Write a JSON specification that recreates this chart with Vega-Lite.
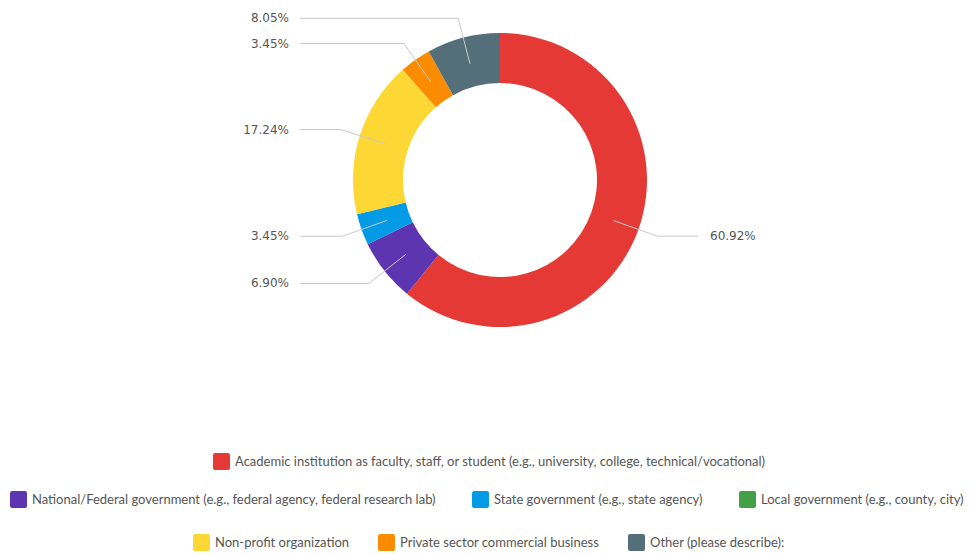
{
  "$schema": "https://vega.github.io/schema/vega-lite/v6.json",
  "width": 975,
  "height": 554,
  "autosize": {"type": "none"},
  "padding": 0,
  "background": "white",
  "config": {"view": {"stroke": null}},
  "data": {
    "values": [
      {"idx": 1, "category": "Academic institution as faculty, staff, or student (e.g., university, college, technical/vocational)", "pct": 60.92},
      {"idx": 2, "category": "National/Federal government (e.g., federal agency, federal research lab)", "pct": 6.90},
      {"idx": 3, "category": "State government (e.g., state agency)", "pct": 3.45},
      {"idx": 4, "category": "Local government (e.g., county, city)", "pct": 0},
      {"idx": 5, "category": "Non-profit organization", "pct": 17.24},
      {"idx": 6, "category": "Private sector commercial business", "pct": 3.45},
      {"idx": 7, "category": "Other (please describe):", "pct": 8.05}
    ]
  },
  "layer": [
    {
      "mark": {"type": "arc", "outerRadius": 147, "innerRadius": 97},
      "encoding": {
        "x": {"datum": 0, "type": "quantitative", "scale": {"domain": [-500, 475], "nice": false, "zero": false}, "axis": null},
        "y": {"datum": 0, "type": "quantitative", "scale": {"domain": [-374, 180], "nice": false, "zero": false}, "axis": null},
        "theta": {"field": "pct", "type": "quantitative", "stack": true},
        "order": {"field": "idx", "type": "quantitative"},
        "color": {
          "field": "category", "type": "nominal", "legend": null,
          "scale": {
            "domain": [
              "Academic institution as faculty, staff, or student (e.g., university, college, technical/vocational)",
              "National/Federal government (e.g., federal agency, federal research lab)",
              "State government (e.g., state agency)",
              "Local government (e.g., county, city)",
              "Non-profit organization",
              "Private sector commercial business",
              "Other (please describe):"
            ],
            "range": ["#E53935", "#5E35B1", "#039BE5", "#43A047", "#FDD835", "#FB8C00", "#546E7A"]
          }
        }
      }
    },
    {
      "transform": [
        {"joinaggregate": [{"op": "sum", "field": "pct", "as": "total"}]},
        {"window": [{"op": "sum", "field": "pct", "as": "cum"}], "sort": [{"field": "idx"}], "frame": [null, 0]},
        {"filter": "datum.pct > 0"},
        {"calculate": "(datum.cum - datum.pct / 2) / datum.total * 2 * PI", "as": "mid"},
        {"calculate": "120 * sin(datum.mid)", "as": "ix"},
        {"calculate": "120 * cos(datum.mid)", "as": "iy"},
        {"calculate": "167 * sin(datum.mid)", "as": "ex"},
        {"calculate": "167 * cos(datum.mid)", "as": "ey"},
        {"calculate": "datum.ex < 0 ? -200 : 198", "as": "lx"},
        {"calculate": "datum.ex < 0 ? -211 : 210", "as": "tx"},
        {"calculate": "format(datum.pct, '.2f') + '%'", "as": "label"}
      ],
      "layer": [
        {
          "mark": {"type": "rule", "color": "#c9c9c9", "strokeWidth": 1},
          "encoding": {
            "x": {"field": "ix", "type": "quantitative"},
            "y": {"field": "iy", "type": "quantitative"},
            "x2": {"field": "ex"},
            "y2": {"field": "ey"}
          }
        },
        {
          "mark": {"type": "rule", "color": "#c9c9c9", "strokeWidth": 1},
          "encoding": {
            "x": {"field": "ex", "type": "quantitative"},
            "y": {"field": "ey", "type": "quantitative"},
            "x2": {"field": "lx"},
            "y2": {"field": "ey"}
          }
        },
        {
          "transform": [{"filter": "datum.ex < 0"}],
          "mark": {"type": "text", "align": "right", "baseline": "middle", "font": "DejaVu Sans", "fontSize": 12, "color": "#555555"},
          "encoding": {
            "x": {"field": "tx", "type": "quantitative"},
            "y": {"field": "ey", "type": "quantitative"},
            "text": {"field": "label"}
          }
        },
        {
          "transform": [{"filter": "datum.ex >= 0"}],
          "mark": {"type": "text", "align": "left", "baseline": "middle", "font": "DejaVu Sans", "fontSize": 12, "color": "#555555"},
          "encoding": {
            "x": {"field": "tx", "type": "quantitative"},
            "y": {"field": "ey", "type": "quantitative"},
            "text": {"field": "label"}
          }
        }
      ]
    },
    {
      "transform": [{"filter": "datum.idx == 1"}],
      "mark": {"type": "point", "opacity": 0, "filled": true},
      "encoding": {
        "x": {"datum": 0, "type": "quantitative"},
        "y": {"datum": 0, "type": "quantitative"},
        "color": {
          "field": "category", "type": "nominal",
          "scale": {"domain": ["Academic institution as faculty, staff, or student (e.g., university, college, technical/vocational)"], "range": ["#E53935"]},
          "legend": {"title": null, "orient": "none", "legendX": 213, "legendY": 453, "direction": "horizontal", "symbolType": "M-0.75,-1H0.75Q1,-1,1,-0.75V0.75Q1,1,0.75,1H-0.75Q-1,1,-1,0.75V-0.75Q-1,-1,-0.75,-1Z", "symbolSize": 289, "symbolOpacity": 1, "symbolStrokeWidth": 0, "labelFont": "Lato", "labelFontSize": 13, "labelColor": "#555555", "labelOffset": 5, "columnPadding": 30, "padding": 0, "labelLimit": 800}
        }
      }
    },
    {
      "transform": [{"filter": "datum.idx >= 2 && datum.idx <= 4"}],
      "mark": {"type": "point", "opacity": 0, "filled": true},
      "encoding": {
        "x": {"datum": 0, "type": "quantitative"},
        "y": {"datum": 0, "type": "quantitative"},
        "color": {
          "field": "category", "type": "nominal",
          "scale": {"domain": ["National/Federal government (e.g., federal agency, federal research lab)", "State government (e.g., state agency)", "Local government (e.g., county, city)"], "range": ["#5E35B1", "#039BE5", "#43A047"]},
          "legend": {"title": null, "orient": "none", "legendX": 10, "legendY": 491, "direction": "horizontal", "symbolType": "M-0.75,-1H0.75Q1,-1,1,-0.75V0.75Q1,1,0.75,1H-0.75Q-1,1,-1,0.75V-0.75Q-1,-1,-0.75,-1Z", "symbolSize": 289, "symbolOpacity": 1, "symbolStrokeWidth": 0, "labelFont": "Lato", "labelFontSize": 13, "labelColor": "#555555", "labelOffset": 5, "columnPadding": 36, "padding": 0, "labelLimit": 800}
        }
      }
    },
    {
      "transform": [{"filter": "datum.idx >= 5"}],
      "mark": {"type": "point", "opacity": 0, "filled": true},
      "encoding": {
        "x": {"datum": 0, "type": "quantitative"},
        "y": {"datum": 0, "type": "quantitative"},
        "color": {
          "field": "category", "type": "nominal",
          "scale": {"domain": ["Non-profit organization", "Private sector commercial business", "Other (please describe):"], "range": ["#FDD835", "#FB8C00", "#546E7A"]},
          "legend": {"title": null, "orient": "none", "legendX": 193, "legendY": 534, "direction": "horizontal", "symbolType": "M-0.75,-1H0.75Q1,-1,1,-0.75V0.75Q1,1,0.75,1H-0.75Q-1,1,-1,0.75V-0.75Q-1,-1,-0.75,-1Z", "symbolSize": 289, "symbolOpacity": 1, "symbolStrokeWidth": 0, "labelFont": "Lato", "labelFontSize": 13, "labelColor": "#555555", "labelOffset": 5, "columnPadding": 28, "padding": 0, "labelLimit": 800}
        }
      }
    }
  ],
  "resolve": {"scale": {"color": "independent"}, "legend": {"color": "independent"}}
}
